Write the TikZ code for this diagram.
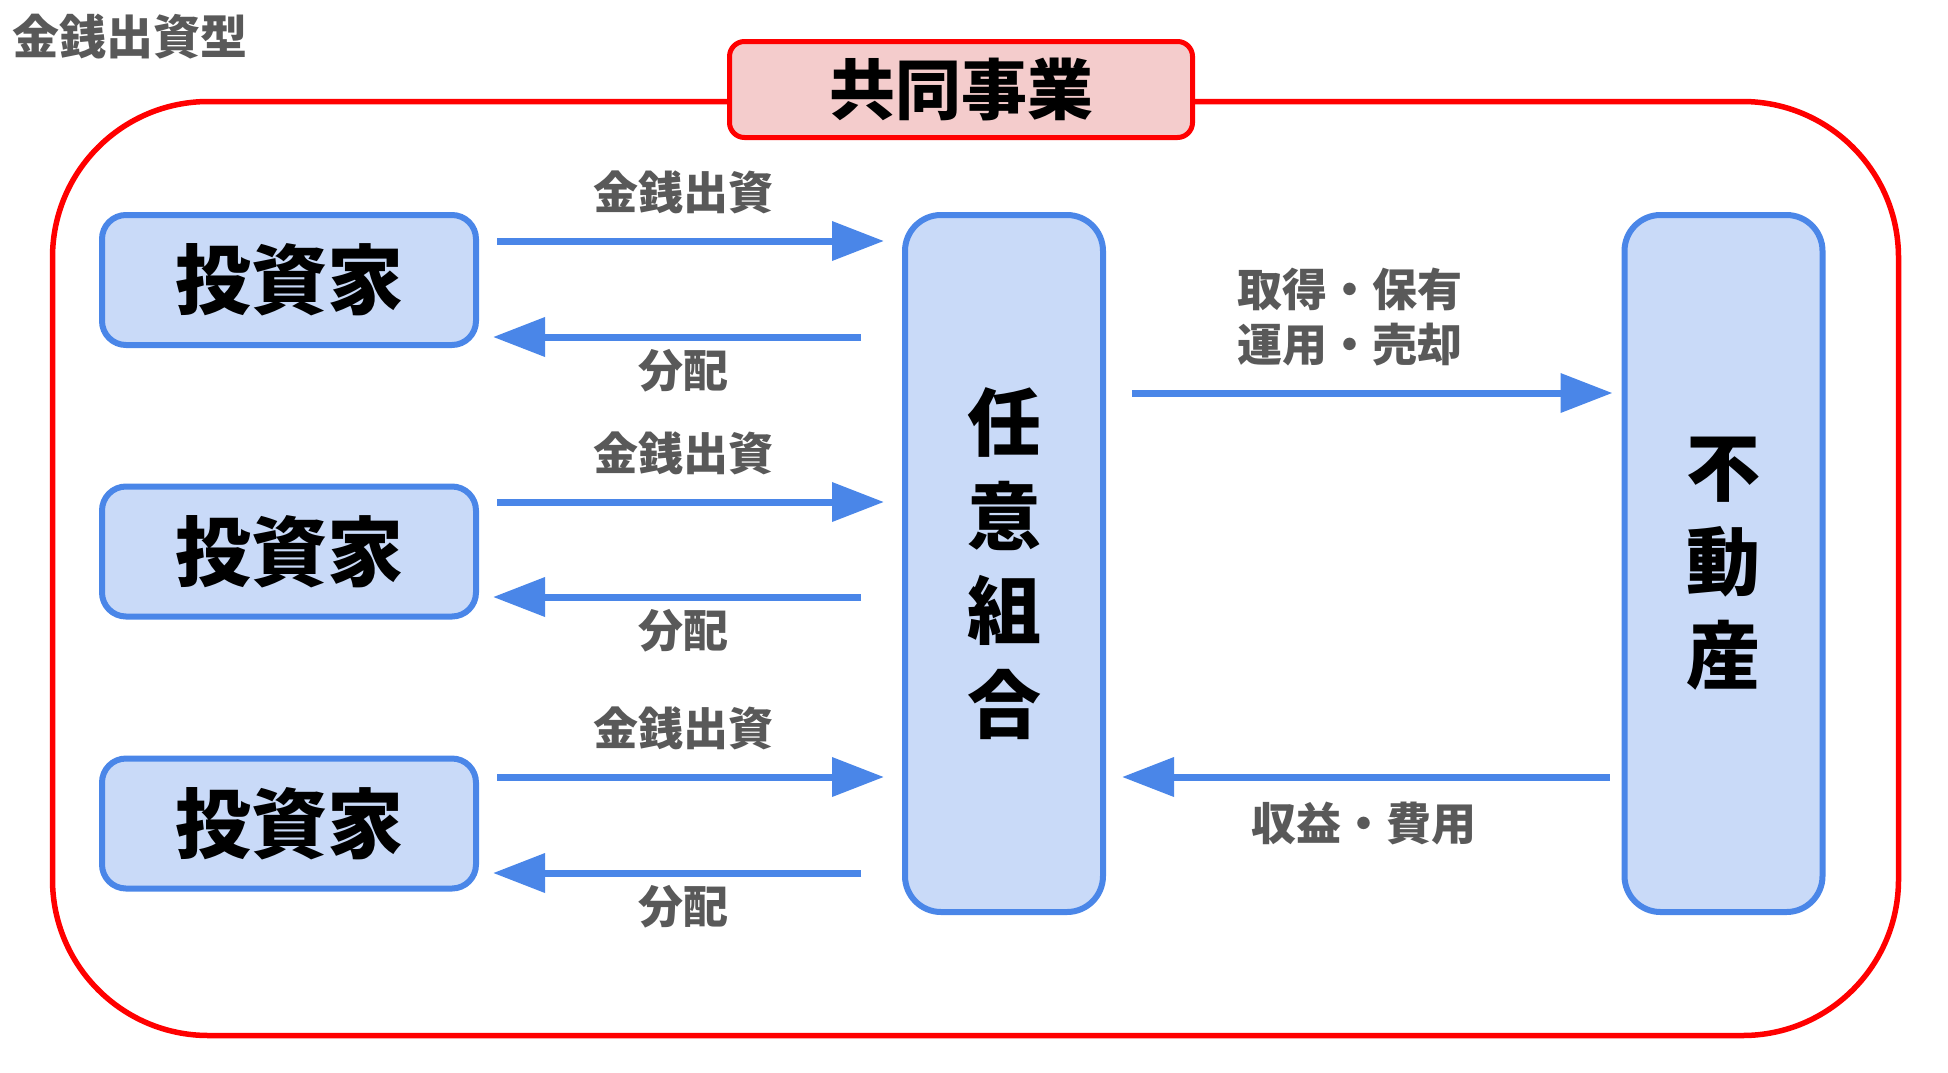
\documentclass[tikz,border=0pt]{standalone}
\usepackage{fontspec}
\setmainfont{Noto Sans CJK JP}
\usepackage{tikz}
\usetikzlibrary{positioning,shapes,fit,arrows.meta,calc}
\definecolor{framered}{HTML}{FF0000}
\definecolor{titlepink}{HTML}{F4CCCC}
\definecolor{boxblue}{HTML}{4A86E8}
\definecolor{boxfill}{HTML}{C9DAF8}
\definecolor{labelgray}{HTML}{595959}

\begin{document}
\begin{tikzpicture}
  [x=0.5pt, y=-0.5pt,
      my box/.style={rectangle, draw=boxblue, fill=boxfill, line width=3pt, rounded corners=12pt, minimum width=187pt, minimum height=65pt, inner sep=0pt, font=\fontsize{38}{38}\selectfont\bfseries},
      tall box/.style={rectangle, draw=boxblue, fill=boxfill, line width=3pt, rounded corners=18pt, minimum width=99pt, minimum height=348.5pt, inner sep=0pt, align=center, font=\fontsize{37}{47}\selectfont\bfseries},
      my arrow/.style={draw=boxblue, line width=3.5pt, -{Triangle[length=26pt,width=19pt]}},
      flow label/.style={text=labelgray, inner sep=0pt, align=center, font=\fontsize{22.5}{27.5}\selectfont\bfseries},
    ]
  \useasboundingbox (0,0) rectangle (1948,1072);

    \node (type) [text=labelgray, inner sep=0pt, font=\fontsize{23.5}{23.5}\selectfont\bfseries] at (130,37) {金銭出資型};

    \node (venture) [draw=framered, line width=2.75pt, rounded corners=78pt, minimum width=923pt, minimum height=467pt] at (975.5,568.5) {};
    \node (joint) [draw=framered, fill=titlepink, line width=2.5pt, rounded corners=7.5pt, minimum width=231.5pt, minimum height=48pt, inner sep=0pt, font=\fontsize{33}{33}\selectfont\bfseries] at (961,89.5) {共同事業};

    \node (inv1) [my box] at (289,280) {投資家};
    \node (inv2) [my box] at (289,551.5) {投資家};
    \node (inv3) [my box] at (289,823.5) {投資家};

    \node (kumiai) [tall box] at (1004,563.5) {任\\意\\組\\合};
    \node (fudosan) [tall box] at (1723.5,563.5) {不\\動\\産};

      \draw [my arrow, shorten <=9pt, shorten >=9pt] (inv1.east |- 0,241) -- (kumiai.west |- 0,241) node [midway, flow label, yshift=24.5pt, xshift=-3.5pt] {金銭出資};
      \draw [my arrow, shorten <=20.5pt, shorten >=7pt] (kumiai.west |- 0,337) -- (inv1.east |- 0,337) node [midway, flow label, yshift=-17pt, xshift=-3.5pt] {分配};

      \draw [my arrow, shorten <=9pt, shorten >=9pt] (inv2.east |- 0,502) -- (kumiai.west |- 0,502) node [midway, flow label, yshift=24.5pt, xshift=-3.5pt] {金銭出資};
      \draw [my arrow, shorten <=20.5pt, shorten >=7pt] (kumiai.west |- 0,597) -- (inv2.east |- 0,597) node [midway, flow label, yshift=-17pt, xshift=-3.5pt] {分配};

      \draw [my arrow, shorten <=9pt, shorten >=9pt] (inv3.east |- 0,777) -- (kumiai.west |- 0,777) node [midway, flow label, yshift=24.5pt, xshift=-3.5pt] {金銭出資};
      \draw [my arrow, shorten <=20.5pt, shorten >=7pt] (kumiai.west |- 0,873) -- (inv3.east |- 0,873) node [midway, flow label, yshift=-17pt, xshift=-3.5pt] {分配};

      \draw [my arrow, shorten <=13pt, shorten >=4.5pt] (kumiai.east |- 0,393) -- (fudosan.west |- 0,393) node [midway, flow label, yshift=38pt, xshift=-7pt] {取得・保有\\運用・売却};
      \draw [my arrow, shorten <=6pt, shorten >=8pt] (fudosan.west |- 0,777) -- (kumiai.east |- 0,777) node [midway, flow label, yshift=-23.5pt] {収益・費用};

  \end{tikzpicture}
\end{document}
